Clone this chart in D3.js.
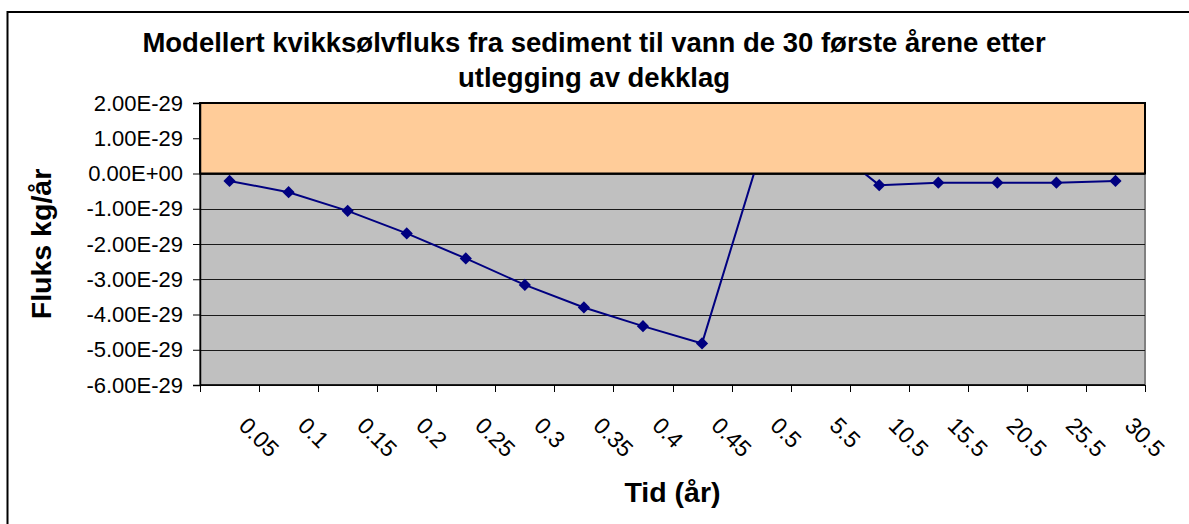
<!DOCTYPE html>
<html>
<head>
<meta charset="utf-8">
<script src="https://cdn.jsdelivr.net/npm/d3@7"></script>
<style>
  html, body { margin: 0; padding: 0; background: #fff; }
  svg { display: block; }
  text { font-family: Arial, "Liberation Sans", sans-serif; fill: #000; }
</style>
</head>
<body>
<svg id="chart" width="1189" height="524"></svg>
<script>
// ---- data ----
const titleLines = ["Modellert kvikksølvfluks fra sediment til vann de 30 første årene etter", "utlegging av dekklag"];
const xTitle = "Tid (år)";
const yTitle = "Fluks kg/år";
const categories = ["0.05","0.1","0.15","0.2","0.25","0.3","0.35","0.4","0.45","0.5","5.5","10.5","15.5","20.5","25.5","30.5"];
const fluxValues = [-0.21e-29, -0.53e-29, -1.06e-29, -1.70e-29, -2.41e-29, -3.16e-29, -3.80e-29, -4.33e-29, -4.82e-29, 0.66e-29, 1.0e-29, -0.33e-29, -0.26e-29, -0.26e-29, -0.26e-29, -0.21e-29];
const bandTop = 2e-29;     // upper shaded band (above zero)
const bandBottom = 0;
const yTicks = [2e-29, 1e-29, 0, -1e-29, -2e-29, -3e-29, -4e-29, -5e-29, -6e-29];

// ---- layout ----
const svg = d3.select("#chart");
const L = 200, R = 1145, T = 103, B = 385;

const x = d3.scaleBand().domain(categories).range([L, R]).paddingInner(0).paddingOuter(0);
const y = d3.scaleLinear().domain([-6e-29, 2e-29]).range([B, T]);

function fmt(d) {
  if (Math.abs(d) < 1e-40) return "0.00E+00";
  const s = d.toExponential(2);
  const [m, e] = s.split("e");
  const sign = e[0];
  const digits = e.slice(1).padStart(2, "0");
  return m + "E" + sign + digits;
}

// outer border
svg.append("rect").attr("x", 7.5).attr("y", 12).attr("width", 1300).attr("height", 700)
  .attr("fill", "#fff").attr("stroke", "#000").attr("stroke-width", 2);

// plot area
svg.append("rect").attr("x", L).attr("y", T).attr("width", R - L).attr("height", B - T)
  .attr("fill", "#C0C0C0").attr("stroke", "#808080").attr("stroke-width", 2);

// gridlines
svg.append("g").selectAll("line").data(yTicks).join("line")
  .attr("x1", L).attr("x2", R)
  .attr("y1", d => Math.round(y(d)) + 0.5).attr("y2", d => Math.round(y(d)) + 0.5)
  .attr("stroke", "#1a1a1a").attr("stroke-width", 1);

// line series
const cx = c => x(c) + x.bandwidth() / 2;
const pts = categories.map((c, i) => [cx(c), y(fluxValues[i])]);
svg.append("path").datum(pts)
  .attr("d", d3.line())
  .attr("fill", "none").attr("stroke", "#000080").attr("stroke-width", 2);

svg.append("g").selectAll("path").data(pts).join("path")
  .attr("d", d3.symbol().type(d3.symbolSquare).size(75))
  .attr("transform", d => `translate(${d[0]},${d[1]}) rotate(45)`)
  .attr("fill", "#000080");

// orange band on top
svg.append("rect")
  .attr("x", L).attr("y", y(bandTop))
  .attr("width", R - L).attr("height", y(bandBottom) - y(bandTop))
  .attr("fill", "#FFCC99").attr("stroke", "#000").attr("stroke-width", 2);

// y axis
const yAxis = d3.axisLeft(y).tickValues(yTicks).tickFormat(fmt).tickSize(7).tickPadding(10);
const gy = svg.append("g").attr("transform", `translate(${L},0)`).call(yAxis);
gy.select(".domain").attr("stroke", "#000").attr("stroke-width", 1.5);
gy.selectAll(".tick line").attr("stroke", "#000");
gy.selectAll(".tick text").attr("font-size", 22).attr("font-family", "Arial, 'Liberation Sans', sans-serif").attr("fill", "#000");

// x axis line
svg.append("line").attr("x1", L).attr("x2", R).attr("y1", B).attr("y2", B)
  .attr("stroke", "#000").attr("stroke-width", 1.5);
// boundary ticks
const bounds = categories.map(c => x(c)).concat([x(categories[categories.length - 1]) + x.bandwidth()]);
svg.append("g").selectAll("line").data(bounds).join("line")
  .attr("x1", d => Math.round(d) + 0.5).attr("x2", d => Math.round(d) + 0.5)
  .attr("y1", B).attr("y2", B + 7)
  .attr("stroke", "#000").attr("stroke-width", 1);
// x labels rotated
svg.append("g").selectAll("text").data(categories).join("text")
  .attr("transform", c => `translate(${cx(c) + 8},${B + 42}) rotate(45)`)
  .attr("text-anchor", "start")
  .attr("font-size", 23)
  .text(c => c);

// titles
svg.append("g").selectAll("text").data(titleLines).join("text")
  .attr("x", 594).attr("y", (d, i) => 52 + i * 35)
  .attr("text-anchor", "middle").attr("font-size", 27.5).attr("font-weight", "bold")
  .text(d => d);

svg.append("text").attr("x", (L + R) / 2).attr("y", 502)
  .attr("text-anchor", "middle").attr("font-size", 28.5).attr("font-weight", "bold")
  .text(xTitle);

svg.append("text").attr("transform", `translate(51,${(T + B) / 2}) rotate(-90)`)
  .attr("text-anchor", "middle").attr("font-size", 28.5).attr("font-weight", "bold")
  .text(yTitle);
</script>
</body>
</html>
